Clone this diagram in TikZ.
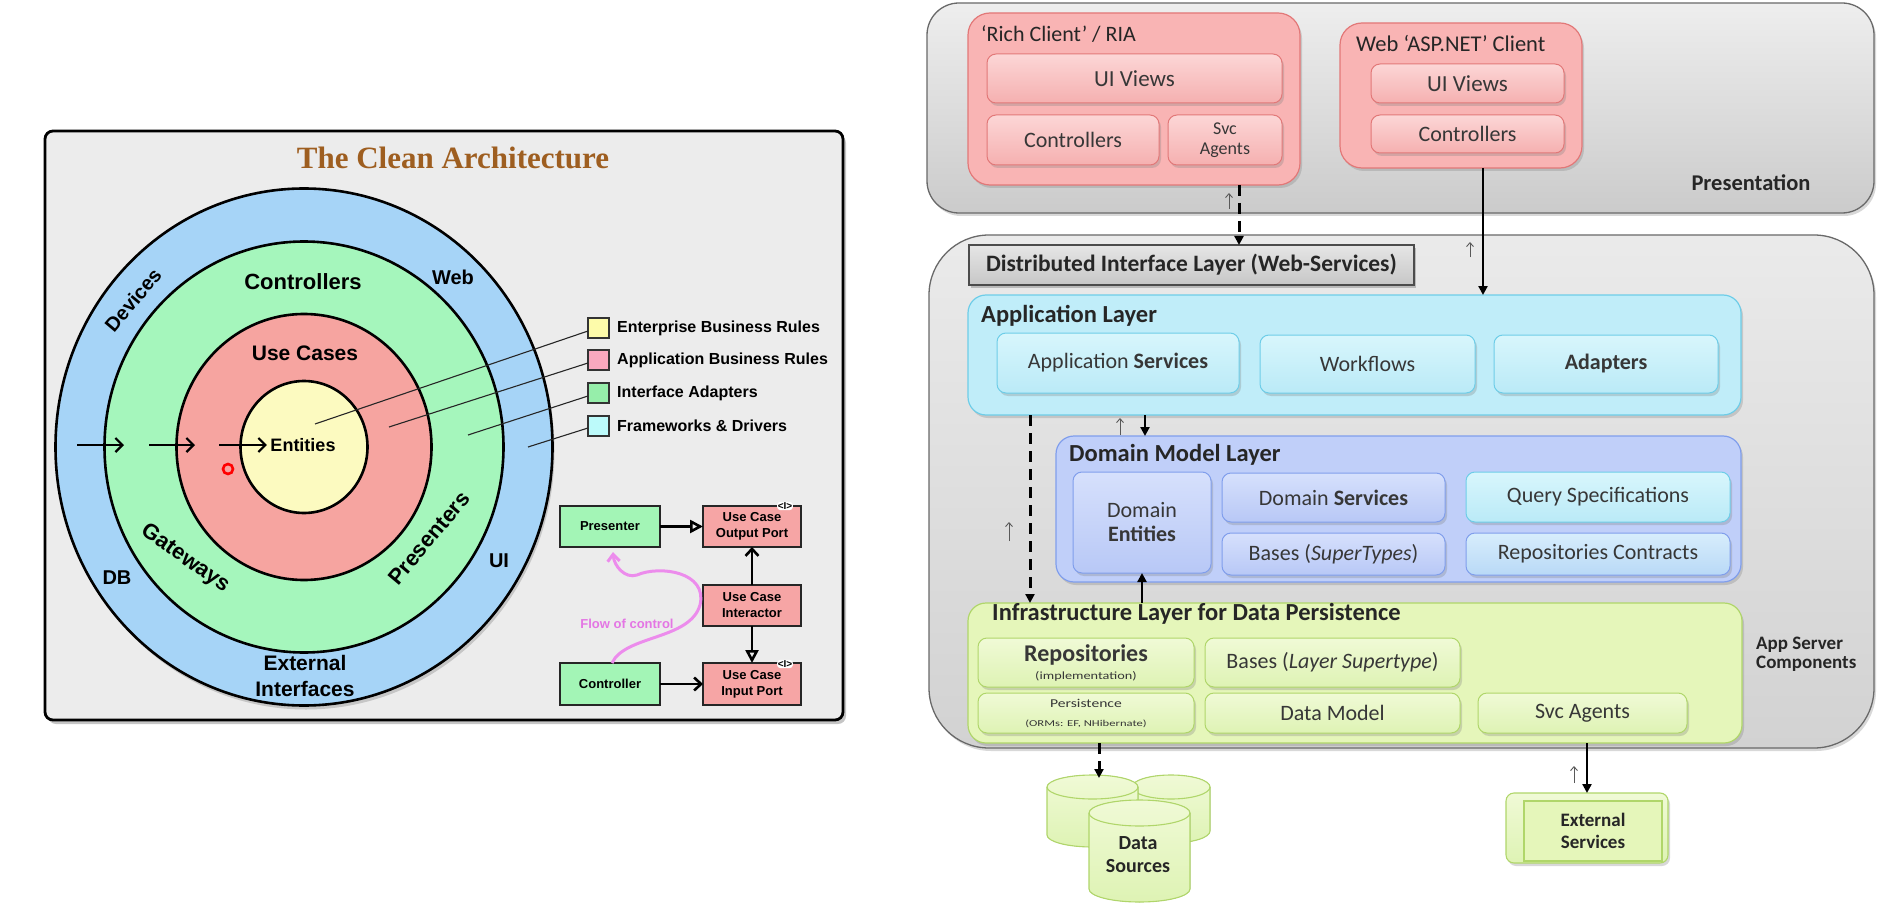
\documentclass[tikz,border=0pt]{standalone}
\usepackage{fontspec}
\setmainfont{Liberation Sans}
\newfontfamily\rfont{Carlito}
\newfontfamily\tfont{Liberation Serif}
\usetikzlibrary{arrows.meta,shadows,calc}

\definecolor{leftbg}{RGB}{236,236,236}
\definecolor{ringblue}{RGB}{166,212,247}
\definecolor{ringgreen}{RGB}{165,246,188}
\definecolor{ringred}{RGB}{246,164,160}
\definecolor{ringyellow}{RGB}{252,250,192}
\definecolor{legyellow}{RGB}{253,251,170}
\definecolor{legpink}{RGB}{249,168,190}
\definecolor{leggreen}{RGB}{150,238,170}
\definecolor{legcyan}{RGB}{188,250,250}
\definecolor{sgreen}{RGB}{163,245,182}
\definecolor{sred}{RGB}{246,165,165}
\definecolor{flowpink}{RGB}{236,140,236}
\definecolor{flowtext}{RGB}{228,118,228}
\definecolor{titlebrown}{RGB}{158,94,32}
\definecolor{grayhi}{RGB}{238,238,238}
\definecolor{graylo}{RGB}{203,203,203}
\definecolor{grayedge}{RGB}{105,105,105}
\definecolor{pinkfill}{RGB}{249,180,180}
\definecolor{pinkedge}{RGB}{226,120,120}
\definecolor{pinkhi}{RGB}{252,214,214}
\definecolor{pinklo}{RGB}{245,176,176}
\definecolor{cyanfill}{RGB}{192,237,249}
\definecolor{cyanedge}{RGB}{110,205,232}
\definecolor{cyanhi}{RGB}{216,246,252}
\definecolor{cyanlo}{RGB}{186,234,247}
\definecolor{bluefill}{RGB}{192,207,249}
\definecolor{blueedge}{RGB}{128,158,236}
\definecolor{bluehi}{RGB}{214,224,252}
\definecolor{bluelo}{RGB}{184,200,246}
\definecolor{limefill}{RGB}{229,246,186}
\definecolor{limeedge}{RGB}{176,214,106}
\definecolor{limehi}{RGB}{240,250,214}
\definecolor{limelo}{RGB}{222,243,180}
\definecolor{rtext}{RGB}{55,55,55}

\newcommand\drawcyl[5]{%
  \pgfmathsetmacro\cylr{(#2-#1)/2}%
  \filldraw[cylst] (#1,#3+#5) -- (#1,#4-#5)
    arc[start angle=180, end angle=360, x radius=\cylr pt, y radius=#5pt]
    -- (#2,#3+#5)
    arc[start angle=0, end angle=180, x radius=\cylr pt, y radius=#5pt] -- cycle;
  \draw[cylline] (#1,#3+#5)
    arc[start angle=180, end angle=360, x radius=\cylr pt, y radius=#5pt];
}

\tikzset{
  wh/.style 2 args={minimum width=#1pt, minimum height=#2pt, inner sep=0pt, outer sep=0pt},
  shd/.style={drop shadow={shadow xshift=2pt, shadow yshift=-3pt, opacity=0.3}},
  ring/.style={draw=black, line width=2.6pt},
  ringlbl/.style={font=\bfseries\fontsize{#1}{#1}\selectfont, text=black},
  inarr/.style={line width=2.2pt, -{Straight Barb[length=7pt,width=14pt]}},
  legsq/.style={draw=black!80, line width=1.2pt, wh={21}{20}},
  legtxt/.style={font=\bfseries\fontsize{16}{16}\selectfont, anchor=west, inner sep=0pt},
  legline/.style={draw=black!85, line width=1.1pt},
  sbox/.style={draw=black!85, line width=2.6pt, font=\bfseries\fontsize{13}{16}\selectfont, align=center},
  ifc/.style={font=\bfseries\fontsize{10}{10}\selectfont, fill=white, inner sep=0.6pt, rounded corners=3pt},
  tarr/.style={line width=2.6pt, -{Triangle[open,length=13pt,width=13pt]}},
  barr/.style={line width=2.6pt, -{Straight Barb[length=7pt,width=13pt]}},
  graybox/.style={draw=grayedge, line width=1.3pt, top color=grayhi, bottom color=graylo},
  rt/.style={font=\rfont\fontsize{22}{24}\selectfont, text=rtext, align=center},
  rtitle/.style={font=\rfont\bfseries\fontsize{24.5}{26}\selectfont, text=black!85, anchor=west, inner sep=0pt},
  pinkout/.style={draw=pinkedge, line width=1.2pt, fill=pinkfill, rounded corners=22pt, shd},
  pinkin/.style={draw=pinkedge, line width=1pt, top color=pinkhi, bottom color=pinklo, rounded corners=9pt, shd, rt},
  cyanout/.style={draw=cyanedge, line width=1.2pt, fill=cyanfill, rounded corners=18pt, shd},
  cyanin/.style={draw=cyanedge, line width=1pt, top color=cyanhi, bottom color=cyanlo, rounded corners=9pt, shd, rt},
  blueout/.style={draw=blueedge, line width=1.2pt, fill=bluefill, rounded corners=18pt, shd},
  bluein/.style={draw=blueedge, line width=1pt, top color=bluehi, bottom color=bluelo, rounded corners=9pt, shd, rt},
  limeout/.style={draw=limeedge, line width=1.2pt, fill=limefill, rounded corners=18pt, shd},
  limein/.style={draw=limeedge, line width=1pt, top color=limehi, bottom color=limelo, rounded corners=9pt, shd, rt},
  cylst/.style={draw=limeedge, line width=1.1pt, top color=limehi, bottom color=limelo},
  cylline/.style={draw=limeedge, line width=1.1pt},
  heavy/.style={line width=2.6pt, -{Triangle[length=9pt,width=9pt]}},
  heavydash/.style={line width=3pt, dash pattern=on 11pt off 7pt, -{Triangle[length=9pt,width=9pt]}},
  thinup/.style={draw=black!65, line width=0.9pt, -{Straight Barb[length=4pt,width=7pt]}},
}

\begin{document}
\begin{tikzpicture}[x=1pt,y=-1pt]
\path[use as bounding box, fill=white] (0,0) rectangle (1882,912);

% ================= LEFT: The Clean Architecture =================
\node[draw=black, line width=2.8pt, fill=leftbg, rounded corners=8pt, wh={798}{589},
      drop shadow={shadow xshift=3pt, shadow yshift=-4pt, opacity=0.45}] (cabox) at (444,425.5) {};
\node[font=\tfont\bfseries\fontsize{31}{31}\selectfont, text=titlebrown] (catitle) at (453,158) {The Clean Architecture};

\coordinate (rc) at (304,447);
\draw[ring, fill=ringblue, drop shadow={shadow xshift=2pt, shadow yshift=-4pt, opacity=0.35}] (rc) ellipse [x radius=248.5pt, y radius=258.5pt];
\draw[ring, fill=ringgreen] (rc) ellipse [x radius=199.5pt, y radius=205.5pt];
\draw[ring, fill=ringred] (rc) ellipse [x radius=127.5pt, y radius=133pt];
\draw[ring, fill=ringyellow] (rc) ellipse [x radius=63.5pt, y radius=66pt];

\node[ringlbl=20, rotate=50] (ldev) at (133,300) {Devices};
\node[ringlbl=22] (lctl) at (303,282) {Controllers};
\node[ringlbl=20] (lweb) at (453,277) {Web};
\node[ringlbl=21] (luse) at (305,353) {Use Cases};
\node[ringlbl=18] (lent) at (303,445) {Entities};
\node[ringlbl=22, rotate=-35] (lgate) at (185,559) {Gateways};
\node[ringlbl=22, rotate=50] (lpres) at (429,538) {Presenters};
\node[ringlbl=20] (ldb) at (117,578) {DB};
\node[ringlbl=20] (lui) at (499,561) {UI};
\node[align=center, font=\bfseries\fontsize{21}{26}\selectfont] (lext) at (305,676) {External\\Interfaces};

\coordinate (a1s) at (77,445);  \coordinate (a1e) at (124,445);
\coordinate (a2s) at (149,445); \coordinate (a2e) at (195,445);
\coordinate (a3s) at (219,445);
\draw[inarr] (a1s) -- (a1e);
\draw[inarr] (a2s) -- (a2e);
\draw[inarr] (a3s) -- (lent.west);
\draw[red, line width=2.6pt] (228,469) circle [radius=5pt];

% legend
\node[legsq, fill=legyellow] (lg1) at (598.5,328) {};
\node[legsq, fill=legpink]   (lg2) at (598.5,360) {};
\node[legsq, fill=leggreen]  (lg3) at (598.5,393) {};
\node[legsq, fill=legcyan]   (lg4) at (598.5,426) {};
\node[legtxt] (lt1) at (617,328) {Enterprise Business Rules};
\node[legtxt] (lt2) at (617,360) {Application Business Rules};
\node[legtxt] (lt3) at (617,393) {Interface Adapters};
\node[legtxt] (lt4) at (617,426) {Frameworks \& Drivers};
\coordinate (le1) at (315,424);
\coordinate (le2) at (389,427);
\coordinate (le3) at (468,435);
\coordinate (le4) at (528,447);
\draw[legline] ($(lg1.west)+(0,3)$) -- (le1);
\draw[legline] ($(lg2.west)+(0,3)$) -- (le2);
\draw[legline] ($(lg3.west)+(0,3)$) -- (le3);
\draw[legline] ($(lg4.west)+(0,2)$) -- (le4);

% small diagram
\node[sbox, fill=sgreen, wh={100}{41}] (pres) at (610,526.5) {Presenter};
\node[sbox, fill=sred, wh={98}{41}] (outp) at (752,526.5) {Use Case\\Output Port};
\node[sbox, fill=sred, wh={98}{41}] (inter) at (752,605.5) {Use Case\\Interactor};
\node[sbox, fill=sgreen, wh={100}{42}] (ctrl) at (610,684) {Controller};
\node[sbox, fill=sred, wh={98}{42}] (inp) at (752,684) {Use Case\\Input Port};
\node[ifc] (iface1) at (785,506) {<I>};
\node[ifc] (iface2) at (785,664) {<I>};
\draw[tarr] (pres) -- (outp);
\draw[barr] (inter) -- (outp);
\draw[tarr] (inter) -- (inp);
\draw[barr] (ctrl) -- (inp);
\coordinate (ftip) at (613,552);
\draw[draw=flowpink, line width=3pt, -{Straight Barb[length=7pt,width=12pt]}]
  ($(ctrl.north)+(2,0)$) .. controls (625,635) and (690,640) .. (700,605)
  .. controls (708,572) and (660,565) .. (637,575)
  .. controls (625,579) and (614,566) .. (ftip);
\node[font=\bfseries\fontsize{13}{13}\selectfont, text=flowtext] (flowlbl) at (627,624) {Flow of control};

% ================= RIGHT: layered architecture =================
\node[graybox, rounded corners=32pt, wh={947}{210}, shd] (presbox) at (1400.5,108) {};
\node[graybox, rounded corners=60pt, wh={945}{513}, top color=grayhi!90!graylo, bottom color=graylo!80!grayhi, shd] (appsrv) at (1401.5,491.5) {};

% presentation
\node[pinkout, wh={332}{172}] (rich) at (1134,99) {};
\node[rtitle, font=\rfont\fontsize{22}{24}\selectfont] (richt) at (981,34) {‘Rich Client’ / RIA};
\node[pinkin, wh={295}{49}, font=\rfont\fontsize{23}{24}\selectfont] (rcui) at (1134.5,78.5) {UI Views};
\node[pinkin, wh={172}{50}] (rcctl) at (1073,140) {Controllers};
\node[pinkin, wh={114}{50}, font=\rfont\fontsize{18}{20}\selectfont] (rcsvc) at (1225,140) {Svc\\Agents};

\node[pinkout, wh={242}{145}] (web) at (1461,95.5) {};
\node[rtitle, font=\rfont\fontsize{22.5}{24}\selectfont] (webt) at (1356,43) {Web ‘ASP.NET’ Client};
\node[pinkin, wh={193}{39}, font=\rfont\fontsize{23}{24}\selectfont] (wui) at (1467.5,83.5) {UI Views};
\node[pinkin, wh={193}{38}] (wctl) at (1467.5,134) {Controllers};
\node[font=\rfont\bfseries\fontsize{22.5}{24}\selectfont, text=black!85] (prest) at (1751,183) {Presentation};

% distributed interface layer
\node[draw=black!70, line width=1.6pt, top color=black!10, bottom color=black!22, wh={445}{40},
      drop shadow={shadow xshift=2pt, shadow yshift=-3pt, opacity=0.45},
      font=\rfont\bfseries\fontsize{23.5}{24}\selectfont, text=black!85] (dil) at (1191.5,265) {Distributed Interface Layer (Web-Services)};

% application layer
\node[cyanout, wh={773}{120}] (applayer) at (1354.5,355) {};
\node[rtitle] (appt) at (981,316) {Application Layer};
\node[cyanin, wh={242}{60}] (appsvc) at (1118,363) {Application \textbf{Services}};
\node[cyanin, wh={215}{58}] (wf) at (1367.5,364) {Workflows};
\node[cyanin, wh={224}{58}, font=\rfont\bfseries\fontsize{22}{24}\selectfont] (adp) at (1606,364) {Adapters};

% domain model layer
\node[blueout, wh={685}{146}] (domain) at (1398.5,509) {};
\node[rtitle] (domt) at (1069,455) {Domain Model Layer};
\node[bluein, wh={138}{101}] (dent) at (1142,522.5) {Domain\\\textbf{Entities}};
\node[bluein, wh={223}{49}] (dsvc) at (1333.5,497.5) {Domain \textbf{Services}};
\node[bluein, wh={223}{42}] (dbases) at (1333.5,554) {Bases (\textit{SuperTypes})};
\node[cyanin, wh={264}{50}] (qspec) at (1598,497) {Query Specifications};
\node[bluein, wh={264}{42}, top color=cyanhi!60!bluehi, bottom color=cyanlo!50!bluelo] (rcon) at (1598,554) {Repositories Contracts};

% infrastructure layer
\node[limeout, wh={774}{140}] (infra) at (1355,673) {};
\node[rtitle] (inft) at (992,614) {Infrastructure Layer for Data Persistence};
\node[limein, wh={216}{49}] (repo) at (1086,662.5) {{\bfseries\fontsize{24}{24}\selectfont Repositories}\\[-6pt]{\fontsize{11}{11}\selectfont\scalebox{1.3}[1]{(implementation)}}};
\node[limein, wh={255}{49}] (lbases) at (1332.5,662.5) {Bases (\textit{Layer Supertype})};
\node[limein, wh={216}{40}] (persist) at (1086,713) {{\fontsize{12}{12}\selectfont\scalebox{1.3}[1]{Persistence}}\\[-5pt]{\fontsize{9}{9}\selectfont\scalebox{1.4}[1]{(ORMs: EF, NHibernate)}}};
\node[limein, wh={255}{40}] (dmodel) at (1332.5,713) {Data Model};
\node[limein, wh={209}{40}] (isvc) at (1582.5,713) {Svc Agents};
\node[font=\rfont\bfseries\fontsize{19}{19}\selectfont, text=black!85, align=left, anchor=west, inner sep=0pt] (appsrvt) at (1756,654.5) {App Server\\Components};

% data sources
\drawcyl{1132}{1210}{775}{843}{12}
\drawcyl{1047}{1138}{775}{847}{12}
\drawcyl{1089}{1190}{800}{902}{13}
\coordinate (dstop) at (1099,778);
\node[font=\rfont\bfseries\fontsize{20}{23}\selectfont, text=black!85, align=center] (dsrc) at (1138,855) {Data\\Sources};

% external services
\node[draw=limeedge, line width=1.1pt, top color=limehi, bottom color=limelo, rounded corners=8pt, wh={162}{70}, shd] (extsvc) at (1587,828) {};
\node[draw=limeedge, line width=1.1pt, fill=limefill, wh={138}{60},
      font=\rfont\bfseries\fontsize{19}{22}\selectfont, text=black!85, align=center] (extin) at (1593,831) {External\\Services};

% connectors
\coordinate (xa) at (1239,0);
\coordinate (xb) at (1483,0);
\coordinate (xc) at (1145,0);
\coordinate (xd) at (1030,0);
\coordinate (xe) at (1099,0);
\coordinate (xf) at (1587,0);
\draw[heavydash] (rich.south -| xa) -- (dil.north -| xa);
\draw[heavy] (web.south -| xb) -- (applayer.north -| xb);
\draw[heavy] (applayer.south -| xc) -- (domain.north -| xc);
\draw[heavydash] (applayer.south -| xd) -- (infra.north -| xd);
\draw[heavy] (infra.north -| dent.south) -- (dent.south);
\draw[heavydash] (infra.south -| xe) -- (dstop);
\draw[heavy] (infra.south -| xf) -- (extsvc.north -| xf);

\coordinate (u1a) at (1229,209); \coordinate (u1b) at (1229,193);
\coordinate (u2a) at (1470,257); \coordinate (u2b) at (1470,242);
\coordinate (u3a) at (1120,435); \coordinate (u3b) at (1120,418);
\coordinate (u4a) at (1009,541); \coordinate (u4b) at (1009,522);
\coordinate (u5a) at (1574,783); \coordinate (u5b) at (1574,766);
\draw[thinup] (u1a) -- (u1b);
\draw[thinup] (u2a) -- (u2b);
\draw[thinup] (u3a) -- (u3b);
\draw[thinup] (u4a) -- (u4b);
\draw[thinup] (u5a) -- (u5b);
\end{tikzpicture}
\end{document}
